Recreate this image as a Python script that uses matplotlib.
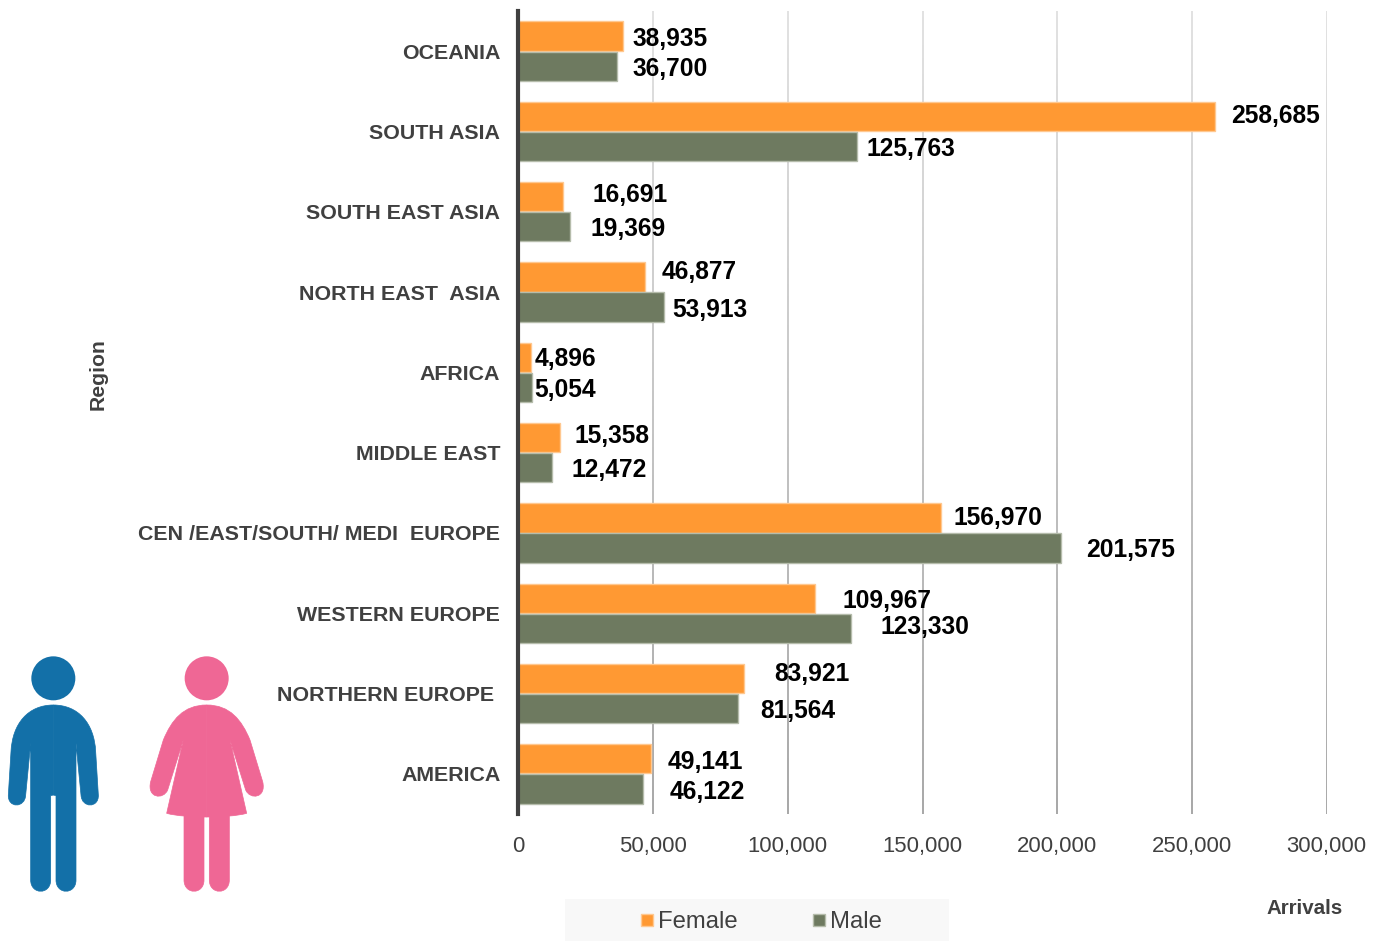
import matplotlib
matplotlib.use("Agg")
import matplotlib.pyplot as plt
import numpy as np
from matplotlib.patches import Circle, PathPatch, Rectangle
from matplotlib.path import Path

plt.rcParams["font.family"] = ["Liberation Sans", "DejaVu Sans"]

W, H = 1384, 941
FEMALE_COLOR = "#FF9933"
MALE_COLOR = "#6E7A60"
TEXT_GREY = "#404040"

regions = ["OCEANIA", "SOUTH ASIA", "SOUTH EAST ASIA", "NORTH EAST  ASIA", "AFRICA",
           "MIDDLE EAST", "CEN /EAST/SOUTH/ MEDI  EUROPE", "WESTERN EUROPE",
           "NORTHERN EUROPE ", "AMERICA"]
female = [38935, 258685, 16691, 46877, 4896, 15358, 156970, 109967, 83921, 49141]
male = [36700, 125763, 19369, 53913, 5054, 12472, 201575, 123330, 81564, 46122]
x_ticks = [0, 50000, 100000, 150000, 200000, 250000, 300000]

# label nudges in pixels from the bar end (dx, dy), the original was hand placed
female_nudge = [(9, -3), (16, 1), (29, 2), (17, 5), (3, -1), (15, 2), (12, 0), (28, -2), (30, 5), (17, -3)]
male_nudge = [(15, -3), (9, -3), (20, -3), (9, -3), (2, -3), (20, -3), (25, -2), (30, 1), (22, -3), (27, -3)]

fig = plt.figure(figsize=(W / 100, H / 100), dpi=100)
ax = fig.add_axes([518.3 / W, 1 - 814 / H, (1326.7 - 518.3) / W, (814 - 11) / H])

# grid fades out towards the top, white veil sits between grid and bars
veil = np.ones((256, 2, 4))
veil[:, :, 3] = np.linspace(0.67, 0, 256)[:, None]
ax.imshow(veil, extent=[0, 1, 0, 1], transform=ax.transAxes, aspect="auto", zorder=1)

y = list(range(len(regions)))
bar_h = 0.365
ax.barh([i - bar_h / 2 - 0.005 for i in y], female, height=bar_h, color=FEMALE_COLOR,
        edgecolor="#FFC890", linewidth=1, zorder=3)
ax.barh([i + bar_h / 2 + 0.005 for i in y], male, height=bar_h, color=MALE_COLOR,
        edgecolor="#B5BCAB", linewidth=1, zorder=3)

ax.set_xlim(0, 300000)
ax.set_ylim(9.5, -0.5)
ax.set_xticks(x_ticks)
ax.set_xticklabels([f"{v:,}" for v in x_ticks], fontsize=15.9, color=TEXT_GREY)
ax.set_yticks(y)
ax.set_yticklabels(regions, fontsize=15.4, fontweight="bold", color=TEXT_GREY)
ax.tick_params(axis="x", length=0, pad=16)
ax.tick_params(axis="y", length=0, pad=13)
ax.grid(axis="x", color="#A0A0A0", linewidth=1.3, zorder=0)
ax.set_axisbelow(True)
for name in ["top", "right", "bottom"]:
    ax.spines[name].set_visible(False)
ax.spines["left"].set_color("#404040")
ax.spines["left"].set_linewidth(3)
ax.spines["left"].set_zorder(5)

for i in y:
    ax.annotate(f"{female[i]:,}", (female[i], i - bar_h / 2), xytext=female_nudge[i],
                textcoords="offset pixels", fontsize=17.7, fontweight="bold", color="black",
                va="center", ha="left", zorder=6)
    ax.annotate(f"{male[i]:,}", (male[i], i + bar_h / 2), xytext=male_nudge[i],
                textcoords="offset pixels", fontsize=17.7, fontweight="bold", color="black",
                va="center", ha="left", zorder=6)

# overlay in reference pixels for icons, legend and the two titles
over = fig.add_axes([0, 0, 1, 1], facecolor="none")
over.set_xlim(0, W)
over.set_ylim(H, 0)
over.axis("off")

over.text(98, 374, "Region", rotation=90, ha="center", va="center", fontsize=15.2,
          fontweight="bold", color=TEXT_GREY)
over.text(1304.5, 908, "Arrivals", ha="center", va="center", fontsize=14.8,
          fontweight="bold", color=TEXT_GREY)

over.add_patch(Rectangle((565, 899), 384, 42, facecolor="#F8F8F8", edgecolor="none"))
over.add_patch(Rectangle((641, 914), 12, 12, facecolor=FEMALE_COLOR, edgecolor="#FFC890", linewidth=1))
over.text(658, 922, "Female", fontsize=17.2, color=TEXT_GREY, va="center", ha="left")
over.add_patch(Rectangle((813, 914), 12, 12, facecolor=MALE_COLOR, edgecolor="#B5BCAB", linewidth=1))
over.text(830, 922, "Male", fontsize=17.2, color=TEXT_GREY, va="center", ha="left")


def half_figure(steps, cx, color):
    # steps are in zoom-crop coordinates (3x, origin 0,640), drawn on both sides of cx
    verts, codes = [], []
    for code, pts in steps:
        codes += [code] * len(pts)
        verts += pts
    for side in (1, -1):
        pix = [(cx / 3 + side * (px - cx) / 3, 640 + py / 3) for px, py in verts]
        over.add_patch(PathPatch(Path(pix + [pix[0]], codes + [Path.CLOSEPOLY]),
                                 facecolor=color, edgecolor=color, linewidth=0.5))


M, L, C = Path.MOVETO, Path.LINETO, Path.CURVE4

man = "#1370A8"
over.add_patch(Circle((160 / 3, 640 + 115 / 3), 66 / 3, facecolor=man, edgecolor="none"))
half_figure([(M, [(160, 195)]),
             (C, [(235, 195), (283, 250), (287, 335)]),
             (L, [(295, 465)]),
             (C, [(297, 505), (245, 505), (243, 465)]),
             (L, [(228, 310), (228, 720)]),
             (C, [(228, 765), (168, 765), (168, 720)]),
             (L, [(168, 467), (160, 465)])], 160, man)

woman = "#EF6795"
over.add_patch(Circle((620 / 3, 640 + 115 / 3), 66 / 3, facecolor=woman, edgecolor="none"))
half_figure([(M, [(620, 195)]),
             (C, [(690, 195), (725, 240), (750, 300)]),
             (L, [(788, 425)]),
             (C, [(800, 475), (750, 480), (737, 450)]),
             (L, [(690, 300), (740, 520)]),
             (C, [(725, 524), (705, 527), (688, 528)]),
             (L, [(688, 720)]),
             (C, [(688, 765), (628, 765), (628, 720)]),
             (L, [(628, 531), (620, 531)])], 620, woman)

fig.savefig("out.png", dpi=100)
